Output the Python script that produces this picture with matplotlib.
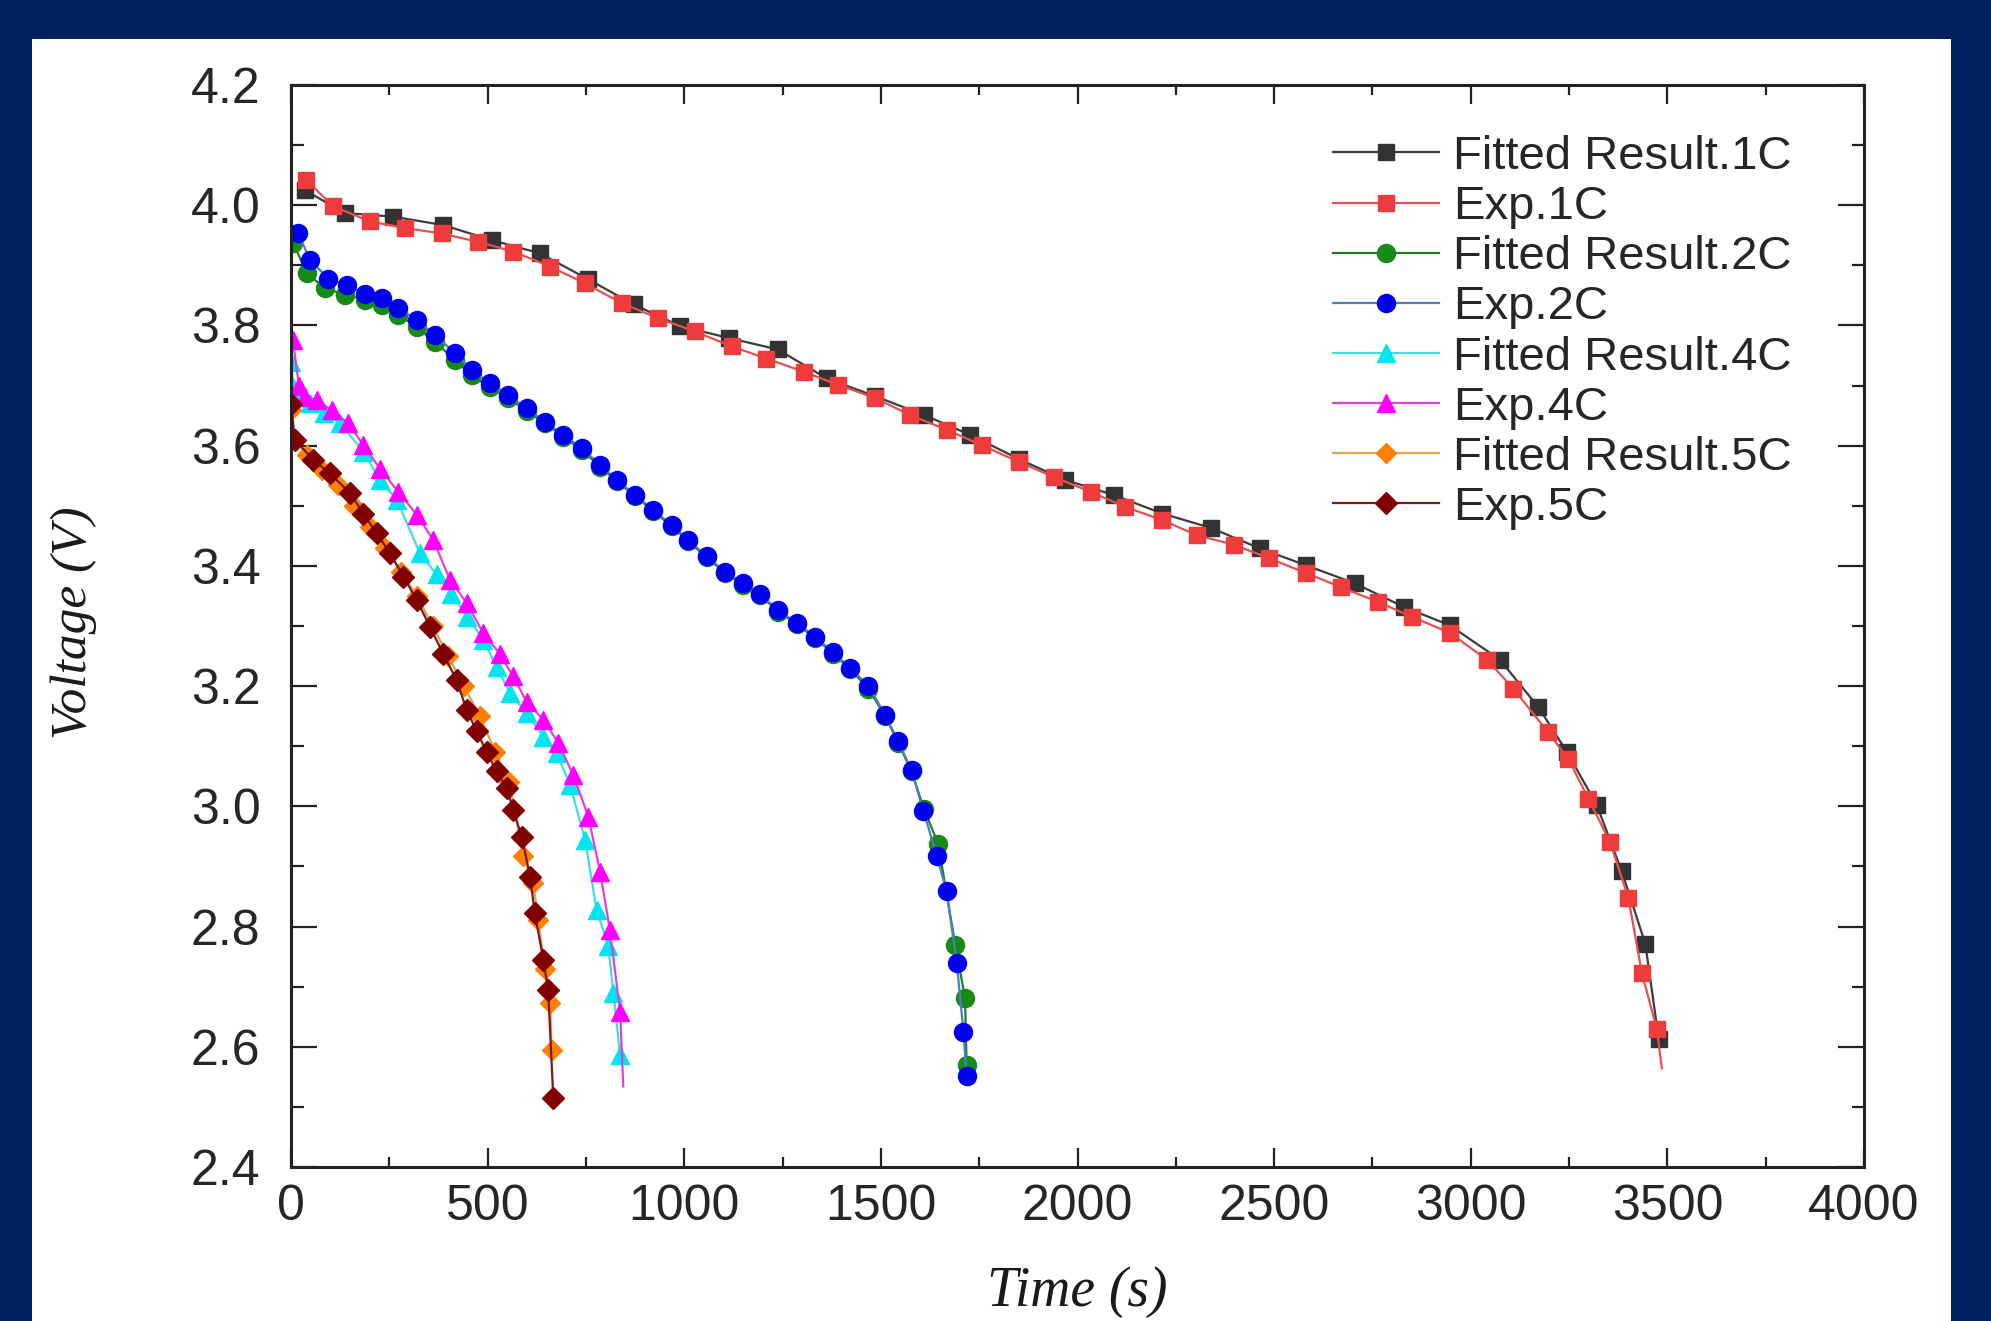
import matplotlib.pyplot as plt
from matplotlib.patches import Rectangle
from matplotlib.ticker import MultipleLocator, FormatStrFormatter

# 1C discharge
t_fit_1c = [35, 137, 260, 387, 510, 633, 755, 871, 989, 1114, 1238, 1362, 1486, 1610, 1727, 1850,
            1968, 2092, 2216, 2340, 2464, 2581, 2705, 2829, 2947, 3074, 3172, 3245, 3320, 3384, 3444, 3478]
v_fit_1c = [4.025, 3.987, 3.981, 3.967, 3.942, 3.920, 3.877, 3.835, 3.799, 3.779, 3.760, 3.712, 3.682,
            3.651, 3.618, 3.578, 3.543, 3.518, 3.487, 3.463, 3.429, 3.401, 3.371, 3.332, 3.301, 3.244,
            3.165, 3.090, 3.003, 2.892, 2.771, 2.613]
t_exp_1c = [38, 108, 201, 290, 383, 476, 565, 659, 748, 841, 934, 1027, 1121, 1209, 1304, 1392, 1486,
            1574, 1669, 1756, 1851, 1939, 2034, 2122, 2216, 2304, 2399, 2486, 2581, 2669, 2764, 2851,
            2946, 3041, 3108, 3197, 3248, 3299, 3354, 3401, 3435, 3473, 3486]
v_exp_1c = [4.042, 3.998, 3.973, 3.962, 3.953, 3.939, 3.923, 3.898, 3.870, 3.837, 3.812, 3.790, 3.765,
            3.745, 3.723, 3.701, 3.679, 3.651, 3.626, 3.601, 3.573, 3.548, 3.523, 3.498, 3.476, 3.451,
            3.435, 3.413, 3.388, 3.365, 3.340, 3.315, 3.289, 3.244, 3.196, 3.123, 3.079, 3.013, 2.941,
            2.847, 2.723, 2.630, 2.564]

# 2C discharge
t_fit_2c = [6, 40, 86, 137, 188, 231, 273, 320, 366, 417, 459, 506, 553, 599, 646, 692, 739, 786, 828,
            875, 921, 968, 1010, 1057, 1104, 1150, 1193, 1239, 1286, 1333, 1379, 1422, 1468, 1511, 1544,
            1578, 1610, 1646, 1689, 1714, 1718]
v_fit_2c = [3.937, 3.887, 3.862, 3.851, 3.843, 3.834, 3.818, 3.797, 3.772, 3.743, 3.717, 3.697, 3.679,
            3.658, 3.637, 3.615, 3.593, 3.565, 3.541, 3.516, 3.491, 3.466, 3.441, 3.414, 3.388, 3.369,
            3.351, 3.324, 3.303, 3.280, 3.254, 3.228, 3.196, 3.150, 3.106, 3.058, 2.995, 2.937, 2.770,
            2.681, 2.569]
t_exp_2c = [19, 48, 95, 142, 188, 231, 273, 320, 366, 417, 459, 506, 553, 599, 646, 692, 739, 786, 828,
            875, 921, 968, 1010, 1057, 1104, 1150, 1193, 1239, 1286, 1333, 1379, 1422, 1468, 1511, 1544,
            1578, 1608, 1642, 1667, 1693, 1710, 1718]
v_exp_2c = [3.953, 3.909, 3.878, 3.867, 3.853, 3.845, 3.829, 3.809, 3.784, 3.754, 3.726, 3.704, 3.684,
            3.662, 3.640, 3.618, 3.596, 3.568, 3.543, 3.518, 3.493, 3.468, 3.443, 3.416, 3.390, 3.371,
            3.353, 3.326, 3.305, 3.282, 3.256, 3.230, 3.201, 3.152, 3.108, 3.060, 2.993, 2.918, 2.859,
            2.740, 2.625, 2.551]

# 4C discharge
t_fit_4c = [0, 6, 23, 48, 85, 125, 184, 226, 269, 328, 370, 408, 448, 489, 523, 557, 599, 642, 676,
            710, 748, 777, 807, 820, 837]
v_fit_4c = [3.740, 3.698, 3.688, 3.671, 3.655, 3.637, 3.590, 3.543, 3.510, 3.421, 3.386, 3.354, 3.315,
            3.277, 3.232, 3.188, 3.155, 3.116, 3.088, 3.035, 2.944, 2.828, 2.767, 2.689, 2.586]
t_exp_4c = [5, 20, 36, 65, 103, 146, 184, 226, 273, 320, 362, 404, 447, 489, 531, 565, 599, 642, 680,
            718, 756, 786, 811, 837, 845]
v_exp_4c = [3.775, 3.700, 3.681, 3.676, 3.659, 3.637, 3.601, 3.562, 3.523, 3.485, 3.443, 3.377, 3.338,
            3.288, 3.254, 3.216, 3.174, 3.144, 3.105, 3.052, 2.983, 2.891, 2.794, 2.658, 2.534]

# 5C discharge
t_fit_5c = [0, 8, 40, 80, 120, 160, 200, 240, 280, 320, 360, 400, 440, 480, 520, 555, 591, 616, 629,
            645, 659, 663]
v_fit_5c = [3.660, 3.610, 3.585, 3.560, 3.535, 3.500, 3.465, 3.430, 3.390, 3.350, 3.300, 3.250, 3.200,
            3.150, 3.090, 3.040, 2.917, 2.872, 2.811, 2.730, 2.672, 2.595]
t_exp_5c = [0, 10, 57, 99, 150, 184, 218, 252, 286, 320, 353, 387, 421, 447, 472, 498, 523, 549, 565,
            587, 608, 620, 642, 654, 667]
v_exp_5c = [3.670, 3.610, 3.576, 3.554, 3.521, 3.487, 3.454, 3.421, 3.382, 3.343, 3.299, 3.254, 3.210,
            3.160, 3.125, 3.090, 3.058, 3.030, 2.994, 2.949, 2.883, 2.822, 2.744, 2.694, 2.514]

W, H = 1991, 1321


def create_discharge_plot():
    fig = plt.figure(figsize=(W / 100, H / 100), dpi=100, facecolor='#03215f')
    # white sheet on the navy slide, kept behind the axes
    sheet = Rectangle((32 / W, 0), (1951 - 32) / W, (H - 39) / H, transform=fig.transFigure,
                      facecolor='white', edgecolor='none', zorder=-10)
    fig.patches.append(sheet)

    ax = fig.add_axes([291 / W, 1 - 1167 / H, (1864 - 291) / W, (1167 - 85) / H])
    ax.set_facecolor('white')

    lw = 1.6
    ax.plot(t_fit_1c, v_fit_1c, '-s', color='#3c3c3c', mfc='#333333', mec='#333333', ms=11.5, lw=lw,
            label='Fitted Result.1C')
    ax.plot(t_exp_1c, v_exp_1c, '-s', color='#e85050', mfc='#ee3b3b', mec='#ee3b3b', ms=12, lw=lw,
            markevery=list(range(len(t_exp_1c) - 1)), label='Exp.1C')
    ax.plot(t_fit_2c, v_fit_2c, '-o', color='#1f7f1f', mfc='#178a17', mec='#178a17', ms=13, lw=lw,
            label='Fitted Result.2C')
    ax.plot(t_exp_2c, v_exp_2c, '-o', color='#4a7cc8', mfc='#0000ee', mec='#0000ee', ms=13, lw=lw,
            label='Exp.2C')
    ax.plot(t_fit_4c, v_fit_4c, '-^', color='#40dede', mfc='#00e5ee', mec='#00e5ee', ms=12.5, lw=lw,
            label='Fitted Result.4C')
    ax.plot(t_exp_4c, v_exp_4c, '-^', color='#e040e0', mfc='#ff00ff', mec='#ff00ff', ms=13, lw=lw,
            markevery=list(range(len(t_exp_4c) - 1)), label='Exp.4C')
    ax.plot(t_fit_5c, v_fit_5c, '-D', color='#e8a050', mfc='#ff8000', mec='#ff8000', ms=10.5, lw=lw,
            label='Fitted Result.5C')
    ax.plot(t_exp_5c, v_exp_5c, '-D', color='#7a1a1a', mfc='#800000', mec='#800000', ms=11, lw=lw,
            label='Exp.5C')

    ax.set_xlim(0, 4000)
    ax.set_ylim(2.4, 4.2)
    ax.xaxis.set_major_locator(MultipleLocator(500))
    ax.xaxis.set_minor_locator(MultipleLocator(250))
    ax.yaxis.set_major_locator(MultipleLocator(0.2))
    ax.yaxis.set_minor_locator(MultipleLocator(0.1))
    ax.yaxis.set_major_formatter(FormatStrFormatter('%.1f'))

    ax.tick_params(which='both', direction='in', top=True, right=True, color='#222222', width=1.6)
    ax.tick_params(axis='x', which='major', length=14, pad=12)
    ax.tick_params(axis='x', which='minor', length=7)
    ax.tick_params(axis='y', which='major', length=19, pad=22)
    ax.tick_params(axis='y', which='minor', length=9)
    for lab in ax.get_xticklabels() + ax.get_yticklabels():
        lab.set_fontfamily('Liberation Sans')
        lab.set_fontsize(36)
        lab.set_color('#262626')
    for sp in ax.spines.values():
        sp.set_linewidth(2.2)
        sp.set_color('#222222')

    fig.text(74 / W, 1 - 623 / H, 'Voltage (V)', rotation=90, ha='center', va='center',
             family='Liberation Serif', style='italic', fontsize=37, color='#1a1a1a')
    # the reference crops this label at the bottom edge; keep it just inside
    fig.text(1077 / W, 1 - 1306 / H, 'Time (s)', ha='center', va='baseline',
             family='Liberation Serif', style='italic', fontsize=40, color='#1a1a1a')

    ax.legend(loc='upper left', bbox_to_anchor=(1333 / W, 1 - 135 / H), bbox_transform=fig.transFigure,
              frameon=False, borderpad=0, borderaxespad=0, handlelength=2.25, handletextpad=0.3,
              labelspacing=0.13, prop={'family': 'Liberation Sans', 'size': 34}, labelcolor='#262626')

    fig.savefig('out.png', dpi=100, facecolor=fig.get_facecolor())


if __name__ == '__main__':
    create_discharge_plot()
